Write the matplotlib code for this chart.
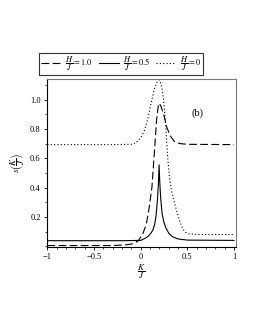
import matplotlib
matplotlib.use('Agg')
import matplotlib.pyplot as plt
from matplotlib.ticker import MultipleLocator, FixedLocator

plt.rcParams['font.family'] = ['Liberation Serif', 'DejaVu Serif']
plt.rcParams['mathtext.fontset'] = 'stix'

# H/J = 1.0 (dashed)
x_h10 = [-1.0, -0.3, -0.15, -0.08, -0.03, 0.02, 0.06, 0.09, 0.12, 0.15, 0.17,
         0.19, 0.2, 0.22, 0.25, 0.28, 0.32, 0.36, 0.42, 0.5, 1.0]
s_h10 = [0.005, 0.005, 0.01, 0.018, 0.035, 0.08, 0.15, 0.26, 0.40, 0.67, 0.86,
         0.965, 0.975, 0.95, 0.89, 0.81, 0.75, 0.715, 0.70, 0.695, 0.693]

# H/J = 0.5 (solid)
x_h05 = [-1.0, -0.2, 0.0, 0.05, 0.08, 0.11, 0.13, 0.15, 0.165, 0.18, 0.19, 0.197,
         0.205, 0.215, 0.23, 0.25, 0.27, 0.3, 0.34, 0.4, 0.5, 1.0]
s_h05 = [0.038, 0.038, 0.04, 0.055, 0.068, 0.09, 0.11, 0.15, 0.21, 0.32, 0.43, 0.555,
         0.43, 0.32, 0.22, 0.16, 0.125, 0.09, 0.065, 0.05, 0.042, 0.04]

# H/J = 0 (dotted)
x_h00 = [-1.0, -0.3, -0.1, -0.05, 0.0, 0.04, 0.08, 0.12, 0.15, 0.18, 0.2, 0.21,
         0.23, 0.25, 0.27, 0.29, 0.31, 0.33, 0.36, 0.39, 0.42, 0.45, 0.48, 0.52, 0.6, 1.0]
s_h00 = [0.693, 0.693, 0.695, 0.705, 0.74, 0.79, 0.88, 1.0, 1.08, 1.125, 1.135, 1.12,
         1.07, 0.97, 0.80, 0.60, 0.46, 0.38, 0.30, 0.23, 0.17, 0.12, 0.095, 0.085, 0.08, 0.08]

labels = [r'$\dfrac{H}{J}=1.0$', r'$\dfrac{H}{J}=0.5$', r'$\dfrac{H}{J}=0$']

fig = plt.figure(figsize=(2.55, 3.3), dpi=100)
ax = fig.add_axes([0.184, 0.2515, 0.741, 0.509])

l1, = ax.plot(x_h10, s_h10, color='black', lw=0.8, dashes=(7, 3))
l2, = ax.plot(x_h05, s_h05, color='black', lw=0.8)
l3, = ax.plot(x_h00, s_h00, color='black', lw=0.8, dashes=(1, 2))

ax.set_xlim(-1.005, 1.02)
ax.set_ylim(-0.005, 1.14)

ax.xaxis.set_major_locator(FixedLocator([-1, -0.5, 0, 0.5, 1]))
ax.xaxis.set_minor_locator(MultipleLocator(0.1))
ax.set_xticklabels(['\u22121', '\u22120.5', '0', '0.5', '1'])
ax.yaxis.set_major_locator(FixedLocator([0.2, 0.4, 0.6, 0.8, 1.0]))
ax.yaxis.set_minor_locator(MultipleLocator(0.1))
ax.set_yticklabels(['0.2', '0.4', '0.6', '0.8', '1.0'])

ax.tick_params(which='major', direction='out', length=2.5, width=0.6, labelsize=6, pad=2)
ax.tick_params(which='minor', direction='out', length=1.5, width=0.5)

for side in ['left', 'bottom']:
    ax.spines[side].set_linewidth(0.8)
    ax.spines[side].set_color('black')
for side in ['top', 'right']:
    ax.spines[side].set_linewidth(0.8)
    ax.spines[side].set_color('#777777')

ax.text(0.61, 0.91, '(b)', fontsize=7.5, ha='center', va='center')

ax.set_xlabel(r'$\dfrac{K}{J}$', fontsize=6.5, labelpad=1)
ax.set_ylabel(r'$s\left(\dfrac{K}{J}\right)$', fontsize=6.5, labelpad=2)

leg = fig.legend([l1, l2, l3], labels, loc='center', bbox_to_anchor=(0.475, 0.806),
                 ncol=3, fontsize=6, frameon=True, fancybox=False,
                 handlelength=2.4, handletextpad=0.5, columnspacing=0.7,
                 borderpad=0.2)
leg.get_frame().set_edgecolor('black')
leg.get_frame().set_linewidth(0.8)

fig.savefig('out.png', dpi=100)
